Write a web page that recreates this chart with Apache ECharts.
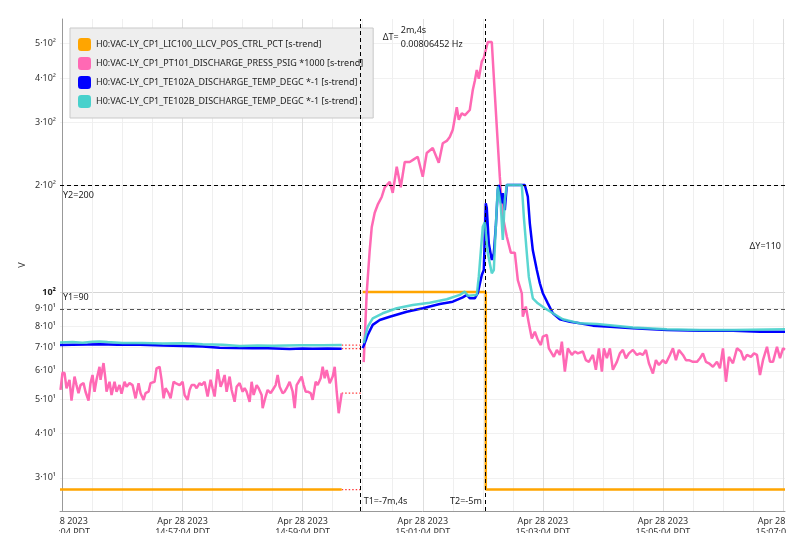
<!DOCTYPE html>
<html>
<head>
<meta charset="utf-8">
<title>s-trend</title>
<script src="https://cdn.jsdelivr.net/npm/echarts@6.0.0/dist/echarts.min.js"></script>
<style>
    html, body { margin: 0; padding: 0; background: #fff; }
    #main { width: 804px; height: 551px; }
</style>
</head>
<body>
<div id="main"></div>
<script>
// names of the four channels
var seriesNames = [
    'H0:VAC-LY_CP1_LIC100_LLCV_POS_CTRL_PCT [s-trend]',
    'H0:VAC-LY_CP1_PT101_DISCHARGE_PRESS_PSIG *1000 [s-trend]',
    'H0:VAC-LY_CP1_TE102A_DISCHARGE_TEMP_DEGC *-1 [s-trend]',
    'H0:VAC-LY_CP1_TE102B_DISCHARGE_TEMP_DEGC *-1 [s-trend]'
];
var seriesColors = ['#ffa500', '#ff69b4', '#0000ff', '#48d1cc'];
var yAxisName = 'V';

// x = seconds after Apr 28 2023 14:55:04 PDT
var xMin = -2.5;
var xMax = 722;
var gridTicks = [0, 30, 60, 90, 120, 150, 180, 210, 240, 270, 300, 330, 360, 390, 420, 450, 480, 510, 540, 570, 600, 630, 660, 690, 720];
var labelTicks = [0, 120, 240, 360, 480, 600, 720];

// log y axis
var yMin = 24.2;
var yMax = 586;
var yTickValues = [30, 40, 50, 60, 70, 80, 90, 100, 200, 300, 400, 500];
var yTickLabels = ['3·10¹', '4·10¹', '5·10¹', '6·10¹', '7·10¹', '8·10¹', '9·10¹', '10²', '2·10²', '3·10²', '4·10²', '5·10²'];

// cursors
var t1 = 298;
var t2 = 422;
var y1 = 90;
var y2 = 200;
var gapStart = 279;

// LIC100 position
var ctrlBefore = [[-2.5, 27.8], [279, 27.8]];
var ctrlAfter = [[300, 100], [423, 100], [423, 27.8], [722, 27.8]];

// PT101 pressure
var pressBefore = [[-2, 53.0], [0, 59.3], [2, 59.2], [4, 53.6], [7, 56.6], [9, 49.5], [12, 57.8], [14, 54.7], [16, 51.9], [18, 54.7],
    [21, 55.4], [23, 52.4], [26, 49.5], [28, 55.4], [30, 58.4], [32, 52.4], [34, 56.6], [37, 61.6], [38, 56.6], [41, 63.1],
    [43, 56.6], [44, 52.4], [47, 55.9], [49, 51.3], [52, 55.9], [54, 52.4], [57, 54.7], [59, 51.7], [62, 55.9], [64, 54.1],
    [67, 55.4], [70, 54.7], [73, 50.2], [76, 55.4], [78, 51.9], [81, 49.7], [83, 51.9], [86, 52.4], [88, 55.4], [92, 55.9],
    [94, 61.0], [97, 61.6], [99, 56.6], [101, 50.2], [103, 53.6], [106, 51.9], [108, 50.2], [111, 55.9], [113, 55.4], [117, 54.7],
    [120, 55.9], [122, 51.3], [125, 49.7], [127, 53.0], [129, 54.7], [132, 54.7], [134, 53.6], [137, 55.4], [139, 54.7], [142, 55.9],
    [143, 54.1], [145, 50.8], [148, 56.6], [150, 53.6], [152, 50.8], [155, 60.6], [158, 54.1], [160, 55.9], [162, 58.4], [164, 52.4],
    [167, 57.8], [169, 53.0], [172, 49.1], [174, 54.1], [177, 55.4], [180, 52.4], [182, 53.6], [184, 52.4], [187, 49.1], [189, 55.9],
    [191, 51.3], [194, 54.7], [196, 53.6], [199, 51.3], [200, 47.1], [203, 50.8], [205, 53.0], [208, 51.9], [210, 53.0], [213, 54.7],
    [215, 58.4], [217, 54.1], [220, 51.9], [222, 52.4], [224, 53.6], [227, 55.9], [230, 52.4], [232, 47.1], [234, 54.7], [236, 55.9],
    [239, 57.8], [241, 54.7], [243, 52.4], [245, 52.4], [248, 51.9], [250, 49.7], [253, 55.9], [255, 54.7], [258, 57.2], [260, 61.6],
    [262, 57.2], [264, 60.3], [267, 55.4], [270, 57.8], [272, 61.6], [274, 52.4], [276, 45.6], [279, 51.9]];
var pressAfter = [[301, 63.5], [304, 99.4], [307, 131], [309, 152], [312, 167], [315, 176], [319, 185], [322, 197], [327, 204], [330, 190],
    [334, 225], [338, 197], [342, 232], [347, 232], [351, 236], [355, 240], [360, 211], [364, 246], [370, 254], [376, 231],
    [380, 262], [384, 266], [387, 273], [390, 286], [394, 331], [396, 305], [399, 318], [402, 314], [407, 325], [410, 370],
    [412, 392], [414, 421], [416, 398], [419, 445], [421, 455], [425, 505], [429, 505], [431, 403], [434, 291], [437, 211],
    [440, 163], [444, 143], [448, 129], [452, 129], [455, 108], [459, 99], [460, 85.2], [463, 91], [466, 81.6], [469, 74.0],
    [472, 77.3], [475, 73.3], [478, 70.9], [480, 74.9], [484, 75.7], [486, 69.4], [491, 65.7], [494, 68.7], [497, 66.5], [499, 72.5],
    [502, 59.7], [505, 69.4], [509, 66.5], [512, 68.0], [515, 67.2], [520, 68.0], [523, 64.3], [526, 63.6], [530, 66.5], [533, 60.4],
    [536, 69.4], [539, 59.7], [541, 69.4], [544, 65.1], [547, 69.4], [550, 60.4], [554, 63.6], [557, 67.2], [560, 68.7], [563, 65.1],
    [566, 67.2], [570, 68.7], [574, 66.5], [577, 67.2], [580, 66.5], [583, 68.7], [586, 63.0], [590, 59.0], [593, 64.3], [596, 62.3],
    [600, 64.3], [603, 63.0], [607, 66.5], [610, 69.4], [613, 64.3], [616, 68.7], [620, 66.5], [623, 64.3], [626, 64.3], [630, 63.6],
    [634, 63.6], [637, 65.1], [640, 67.2], [643, 63.6], [646, 63.0], [650, 61.6], [654, 63.6], [657, 61.0], [660, 69.4], [663, 55.9],
    [666, 65.7], [670, 63.0], [674, 69.4], [678, 68.0], [681, 64.3], [684, 66.5], [688, 65.7], [691, 67.2], [694, 66.5], [697, 58.4],
    [700, 64.3], [704, 70.1], [707, 63.6], [710, 63.6], [714, 70.1], [717, 65.1], [720, 69.4], [722, 68.8]];

// TE102A temperature
var tempABefore = [[-2.5, 70.9], [10, 71.0], [25, 71.1], [37, 71.3], [55, 71.0], [70, 71.1], [85, 70.9], [100, 70.7], [121, 70.5], [140, 70.2],
    [157, 69.7], [172, 69.6], [190, 69.4], [205, 69.5], [227, 69.1], [240, 69.3], [250, 69.2], [265, 69.3], [279, 69.25]];
var tempAAfter = [[300, 69.5], [303, 73.0], [305, 75.7], [310, 80.8], [317, 83.4], [327, 85.2], [344, 88.0], [360, 90.0], [377, 92.5], [390, 93.9],
    [400, 96.6], [404, 98.1], [407, 96.0], [412, 96.0], [415, 99.2], [419, 111.6], [421, 115.3], [423, 177.6], [424, 172], [426, 137],
    [429, 123], [431, 128.5], [433, 152.6], [435, 193.7], [436, 200], [439, 177.6], [440, 189.6], [442, 170], [444, 200], [462, 200],
    [465, 185.4], [467, 156], [470, 131], [474, 115.3], [477, 105.8], [480, 99.2], [485, 92.9], [490, 87.1], [497, 83.8], [507, 82.5],
    [517, 81.6], [530, 80.4], [547, 79.8], [570, 79.0], [604, 78.2], [637, 77.8], [670, 77.8], [697, 77.3], [722, 77.3]];

// TE102B temperature
var tempBBefore = [[-2.5, 72.1], [10, 72.3], [20, 72.0], [30, 72.4], [37, 72.6], [45, 72.3], [60, 71.9], [80, 71.8], [100, 71.6], [121, 71.7],
    [140, 71.3], [160, 71.0], [177, 70.5], [195, 70.7], [210, 70.6], [237, 70.8], [260, 70.8], [279, 70.9]];
var tempBAfter = [[301, 71.8], [305, 79.8], [310, 84.3], [320, 87.1], [334, 90.0], [350, 91.9], [367, 93.3], [384, 95.4], [397, 98.1], [402, 100.2],
    [405, 97.6], [414, 98.1], [416, 110.4], [420, 152.6], [422, 157], [425, 128.5], [429, 112.9], [431, 115.3], [433, 152.6], [435, 198],
    [438, 175], [440, 140], [442, 181.6], [444, 200], [459, 200], [461, 163], [464, 128.5], [466, 110.4], [470, 96.0], [475, 92.9],
    [482, 90.0], [490, 87.1], [500, 83.8], [517, 81.6], [534, 81.3], [570, 79.5], [604, 78.6], [637, 78.2], [670, 78.2], [722, 78.6]];

var font = "'Noto Sans', sans-serif";
var fs = 9;

function lg(v) {
    return Math.log10(v);
}

// log transform, with a break across the data gap
function joinLog(before, after) {
    var out = before.map(function (p) {
        return [p[0], lg(p[1])];
    });
    out.push([(gapStart + t1) / 2, '-']);
    after.forEach(function (p) {
        out.push([p[0], lg(p[1])]);
    });
    return out;
}

// dotted red hold line from last sample to T1
function holdLine(before) {
    var last = before[before.length - 1];
    return {
        type: 'line',
        data: [[last[0], lg(last[1])], [t1, lg(last[1])]],
        symbol: 'none',
        silent: true,
        lineStyle: { color: '#ff3b3b', width: 1.3, type: [1.5, 2] },
        z: 1
    };
}

function pad(n) {
    return n < 10 ? '0' + n : '' + n;
}

function timeLabel(sec) {
    var s = 14 * 3600 + 55 * 60 + 4 + Math.round(sec);
    return 'Apr 28 2023\n' + pad(Math.floor(s / 3600)) + ':' + pad(Math.floor(s / 60) % 60) + ':' + pad(s % 60) + ' PDT';
}

function yLabel(val) {
    var v = Math.pow(10, val);
    var best = 0;
    yTickValues.forEach(function (t, i) {
        if (Math.abs(t - v) < Math.abs(yTickValues[best] - v)) best = i;
    });
    return best === 7 ? '{b|' + yTickLabels[best] + '}' : yTickLabels[best];
}

var xGridColors = gridTicks.map(function (t) {
    return t % 120 === 0 ? '#dedede' : '#efefef';
});
var yGridColors = yTickValues.map(function (t) {
    return t === 100 ? '#d6d6d6' : '#f1f1f1';
});

var chart = echarts.init(document.getElementById('main'), null, { renderer: 'canvas' });

var cursorLine = { color: '#000', width: 1, type: [4, 3] };

var option = {
    animation: false,
    backgroundColor: '#fff',
    textStyle: { fontFamily: font },
    grid: { left: 60, right: 19, top: 19, bottom: 40, containLabel: false, outerBoundsMode: 'none' },
    legend: {
        data: seriesNames.map(function (n, i) {
            return { name: n, itemStyle: { color: seriesColors[i] } };
        }),
        orient: 'vertical',
        left: 70,
        top: 28,
        backgroundColor: '#eeeeee',
        borderColor: '#c9c9c9',
        borderWidth: 1,
        padding: [10, 10, 10, 8],
        itemGap: 6,
        itemWidth: 13,
        itemHeight: 13,
        icon: 'roundRect',
        textStyle: { fontSize: fs, color: '#222', fontFamily: font }
    },
    xAxis: {
        type: 'value',
        min: xMin,
        max: xMax,
        axisLine: { onZero: false, lineStyle: { color: '#999' } },
        axisTick: { show: false, customValues: gridTicks },
        axisLabel: {
            customValues: labelTicks,
            formatter: timeLabel,
            color: '#333',
            fontSize: fs,
            lineHeight: 11,
            margin: 5,
            fontFamily: font
        },
        splitLine: { show: true, lineStyle: { color: xGridColors, width: 1 } }
    },
    yAxis: {
        type: 'value',
        min: lg(yMin),
        max: lg(yMax),
        axisLine: { show: true, lineStyle: { color: '#999' } },
        axisTick: { show: false, customValues: yTickValues.map(lg) },
        axisLabel: {
            customValues: yTickValues.map(lg),
            formatter: yLabel,
            color: '#333',
            fontSize: fs,
            margin: 4,
            fontFamily: font,
            rich: { b: { fontWeight: 'bold', fontSize: fs, color: '#222', fontFamily: font } }
        },
        splitLine: { show: true, lineStyle: { color: yGridColors, width: 1 } }
    },
    series: [
        {
            name: seriesNames[0],
            type: 'line',
            data: joinLog(ctrlBefore, ctrlAfter),
            symbol: 'none',
            lineStyle: { color: seriesColors[0], width: 2.5 },
            itemStyle: { color: seriesColors[0] },
            z: 2,
            markLine: {
                silent: true,
                symbol: 'none',
                label: { show: false },
                lineStyle: cursorLine,
                data: [
                    { xAxis: t1 },
                    { xAxis: t2 },
                    { yAxis: lg(y2) },
                    { yAxis: lg(y1), lineStyle: { color: '#555' } }
                ]
            }
        },
        {
            name: seriesNames[1],
            type: 'line',
            data: joinLog(pressBefore, pressAfter),
            symbol: 'none',
            lineStyle: { color: seriesColors[1], width: 2.5 },
            itemStyle: { color: seriesColors[1] },
            z: 3
        },
        {
            name: seriesNames[2],
            type: 'line',
            data: joinLog(tempABefore, tempAAfter),
            symbol: 'none',
            lineStyle: { color: seriesColors[2], width: 2.5 },
            itemStyle: { color: seriesColors[2] },
            z: 4
        },
        {
            name: seriesNames[3],
            type: 'line',
            data: joinLog(tempBBefore, tempBAfter),
            symbol: 'none',
            lineStyle: { color: seriesColors[3], width: 2.5, opacity: 0.9 },
            itemStyle: { color: seriesColors[3] },
            z: 5
        },
        holdLine(ctrlBefore),
        holdLine(pressBefore),
        holdLine(tempABefore),
        holdLine(tempBBefore)
    ]
};

chart.setOption(option);

// cursor annotations, placed through the axes
function px(t, v) {
    return chart.convertToPixel({ xAxisIndex: 0, yAxisIndex: 0 }, [t, lg(v)]);
}

function txt(text, x, y, align) {
    return {
        type: 'text',
        silent: true,
        z: 50,
        style: {
            text: text, x: x, y: y, fill: '#222', fontSize: fs, fontFamily: font,
            align: align, textAlign: align, verticalAlign: 'middle', textVerticalAlign: 'middle'
        }
    };
}

var pT1 = px(t1, y1);
var pT2 = px(t2, y2);
var pY1 = px(xMin, y1);
var pY2 = px(xMin, y2);
var pRight = px(xMax, y1);
var pBottom = px(xMin, yMin);
var pTop = px(xMin, yMax);
var mid = (pT1[0] + pT2[0]) / 2;
var dt = t2 - t1;

chart.setOption({
    graphic: [
        txt('Y2=' + y2, pY2[0] + 3, pY2[1] + 10, 'left'),
        txt('Y1=' + y1, pY1[0] + 3, pY1[1] - 11, 'left'),
        txt('ΔY=' + (y2 - y1), pRight[0] - 4, (pY1[1] + pY2[1]) / 2, 'right'),
        txt('T1=-7m,4s', pT1[0] + 3, pBottom[1] - 10, 'left'),
        txt('T2=-5m', pT2[0] - 3, pBottom[1] - 10, 'right'),
        txt('ΔT=', mid - 24, 37, 'right'),
        txt(Math.floor(dt / 60) + 'm,' + (dt % 60) + 's', mid - 22, 30, 'left'),
        txt((1 / dt).toFixed(8) + ' Hz', mid - 22, 44, 'left'),
        // y axis title
        {
            type: 'text', silent: true, x: 22, y: (pTop[1] + pBottom[1]) / 2, rotation: Math.PI / 2,
            style: { text: yAxisName, fill: '#333', fontSize: fs, fontFamily: font, align: 'center', textAlign: 'center', verticalAlign: 'middle', textVerticalAlign: 'middle' }
        },
        // clip the axis labels to the plot width, like the source
        { type: 'rect', silent: true, z: 100, shape: { x: 0, y: pBottom[1] + 1, width: pY1[0] - 1, height: 60 }, style: { fill: '#fff' } },
        { type: 'rect', silent: true, z: 100, shape: { x: pRight[0] + 1, y: pBottom[1] + 1, width: 40, height: 60 }, style: { fill: '#fff' } },
        { type: 'rect', silent: true, z: 100, shape: { x: 0, y: 533, width: 804, height: 30 }, style: { fill: '#fff' } }
    ]
});
</script>
</body>
</html>
